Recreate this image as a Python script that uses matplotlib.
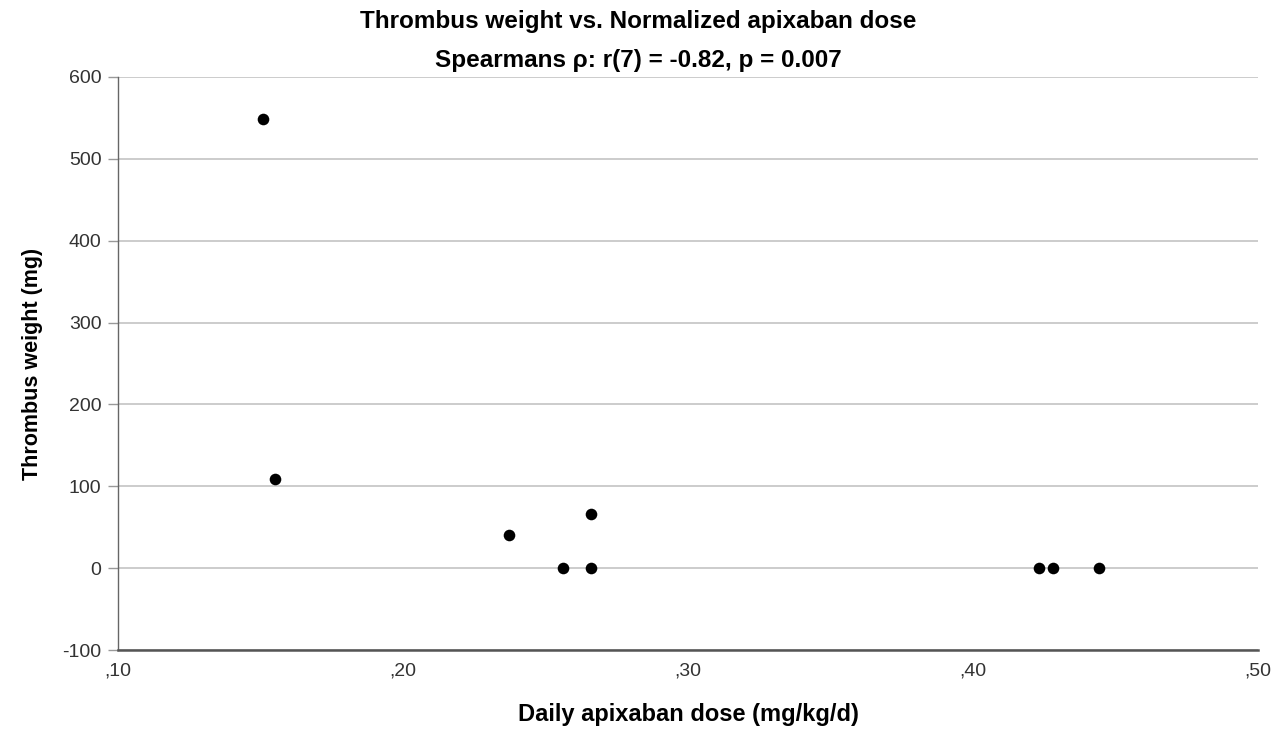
import matplotlib
matplotlib.use("Agg")
import matplotlib.pyplot as plt

# daily apixaban dose (mg/kg/d) and thrombus weight (mg)
dose = [0.151, 0.155, 0.237, 0.256, 0.266, 0.266, 0.423, 0.428, 0.444]
weight = [549, 109, 41, 0, 66, 0, 0, 0, 0]

x_ticks = [0.10, 0.20, 0.30, 0.40, 0.50]
x_tick_labels = [",10", ",20", ",30", ",40", ",50"]
y_ticks = [-100, 0, 100, 200, 300, 400, 500, 600]

plt.rcParams['font.family'] = ['Liberation Sans', 'DejaVu Sans']

fig = plt.figure(figsize=(12.76, 7.31), dpi=100)
ax = fig.add_axes([0.0925, 0.1108, 0.8935, 0.7839])

ax.scatter(dose, weight, s=70, color="black", zorder=3, linewidths=0)

ax.set_xlim(0.10, 0.50)
ax.set_ylim(-100, 600)
ax.set_xticks(x_ticks)
ax.set_xticklabels(x_tick_labels, fontsize=14, color="#333333")
ax.set_yticks(y_ticks)
ax.set_yticklabels([str(v) for v in y_ticks], fontsize=14, color="#333333")
ax.tick_params(axis="x", length=0, pad=9)
ax.tick_params(axis="y", length=7, width=1, color="#999999", pad=5)

ax.grid(axis="y", color="#c4c4c4", linewidth=1.2, zorder=0)
ax.set_axisbelow(True)
for side in ["top", "right"]:
    ax.spines[side].set_visible(False)
ax.spines["left"].set_color("#666666")
ax.spines["bottom"].set_color("#555555")
ax.spines["left"].set_linewidth(1.0)
ax.spines["bottom"].set_linewidth(1.8)

ax.set_xlabel("Daily apixaban dose (mg/kg/d)", fontsize=17, fontweight="bold", labelpad=17)
ax.set_ylabel("Thrombus weight (mg)", fontsize=15.5, fontweight="bold", labelpad=14)

fig.text(0.5, 0.970, "Thrombus weight vs. Normalized apixaban dose", ha="center", va="center",
         fontsize=17.5, fontweight="bold")
fig.text(0.5, 0.917, "Spearmans ρ: r(7) = -0.82, p = 0.007", ha="center", va="center",
         fontsize=17.5, fontweight="bold")

plt.savefig("out.png", dpi=100)
